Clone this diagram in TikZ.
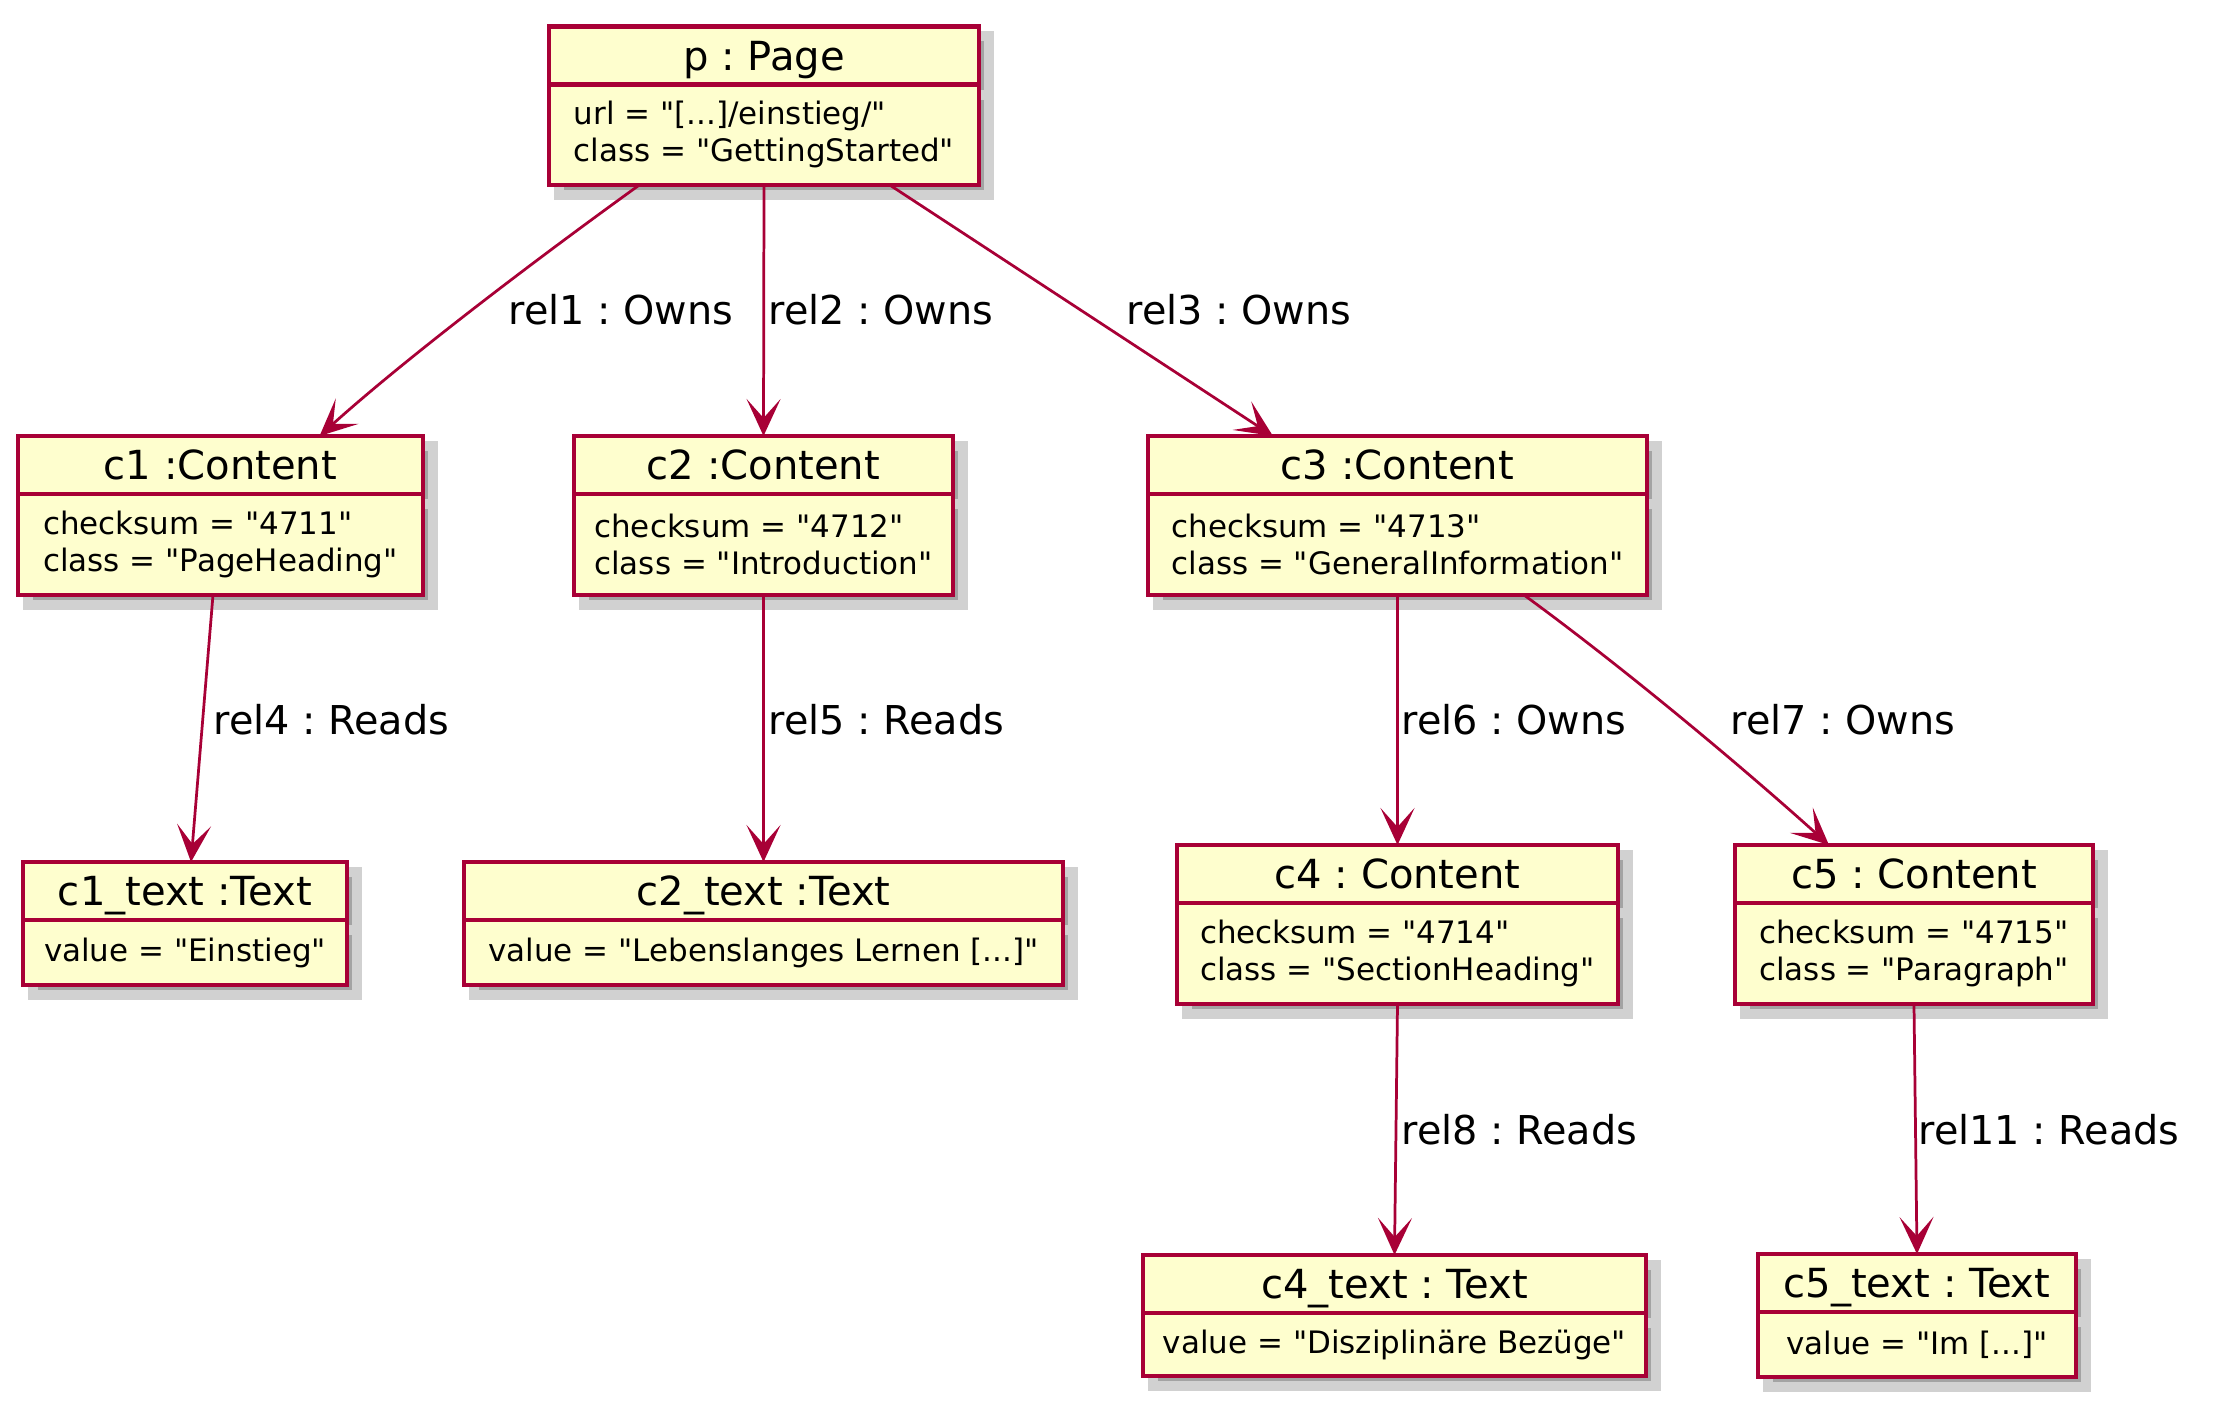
\documentclass[tikz,border=0pt]{standalone}
\usepackage{fontspec}
\setmainfont{DejaVu Sans}[Ligatures=TeXOff]
\usetikzlibrary{arrows.meta, positioning, shadows}
\frenchspacing

\definecolor{umlred}{HTML}{A80036}
\definecolor{umlfill}{HTML}{FEFECE}

\tikzset{
  objshadow/.style={drop shadow={shadow xshift=0.10cm, shadow yshift=-0.10cm, opacity=1, fill=black!36, draw=black!18, line width=0.10cm}},
  objhead/.style={draw=umlred, fill=umlfill, line width=1.15pt, minimum height=0.58cm, inner sep=0pt, outer sep=0pt, font=\fontsize{11.4}{13}\selectfont, text height=10.3pt, text depth=2pt, objshadow},
  objattr/.style={draw=umlred, fill=umlfill, line width=1.15pt, inner xsep=0.2cm, inner ysep=0pt, outer sep=0pt, align=left, font=\fontsize{8.8}{10.5}\selectfont, objshadow},
  link/.style={draw=umlred, line width=0.78pt, -{Stealth[length=0.37cm, width=0.34cm, inset=0.19cm]}},
  rellabel/.style={anchor=west, inner sep=0pt, font=\fontsize{11.3}{13}\selectfont}
}

\begin{document}
\begin{tikzpicture}[x=0.01cm, y=-0.01cm]
  \useasboundingbox (0,0) rectangle (2223,1409);

  \node[objhead, minimum width=4.30cm] (p) at (764,55.5) {p : Page};
  \node[objattr, minimum width=4.30cm, minimum height=1.00cm, below=0pt of p] (p-attr) {url = "[...]/einstieg/"\\class = "GettingStarted"};

  \node[objhead, minimum width=4.05cm] (c1) at (220.5,465) {c1 :Content};
  \node[objattr, minimum width=4.05cm, minimum height=1.01cm, below=0pt of c1] (c1-attr) {checksum = "4711"\\class = "PageHeading"};
  \node[objhead, minimum width=3.79cm] (c2) at (763.5,465) {c2 :Content};
  \node[objattr, minimum width=3.79cm, minimum height=1.01cm, below=0pt of c2] (c2-attr) {checksum = "4712"\\class = "Introduction"};
  \node[objhead, minimum width=4.99cm] (c3) at (1397.5,465) {c3 :Content};
  \node[objattr, minimum width=4.99cm, minimum height=1.01cm, below=0pt of c3] (c3-attr) {checksum = "4713"\\class = "GeneralInformation"};

  \node[objhead, minimum width=3.24cm] (c1text) at (185,891) {c1\_text :Text};
  \node[objattr, minimum width=3.24cm, minimum height=0.65cm, below=0pt of c1text] (c1text-attr) {value = "Einstieg"};
  \node[objhead, minimum width=5.99cm] (c2text) at (763.5,891) {c2\_text :Text};
  \node[objattr, minimum width=5.99cm, minimum height=0.65cm, below=0pt of c2text] (c2text-attr) {value = "Lebenslanges Lernen [...]"};

  \node[objhead, minimum width=4.41cm] (c4) at (1397.5,874) {c4 : Content};
  \node[objattr, minimum width=4.41cm, minimum height=1.01cm, below=0pt of c4] (c4-attr) {checksum = "4714"\\class = "SectionHeading"};
  \node[objhead, minimum width=3.58cm] (c5) at (1914,874) {c5 : Content};
  \node[objattr, minimum width=3.58cm, minimum height=1.01cm, below=0pt of c5] (c5-attr) {checksum = "4715"\\class = "Paragraph"};

  \node[objhead, minimum width=5.03cm] (c4text) at (1394.5,1284) {c4\_text : Text};
  \node[objattr, minimum width=5.03cm, minimum height=0.63cm, below=0pt of c4text] (c4text-attr) {value = "Disziplinäre Bezüge"};
  \node[objhead, minimum width=3.18cm] (c5text) at (1917,1283) {c5\_text : Text};
  \node[objattr, minimum width=3.18cm, minimum height=0.65cm, below=0pt of c5text] (c5text-attr) {value = "Im [...]"};

  \draw[link] ([xshift=-1.24cm]p-attr.south) .. controls +(-100,72) and +(89,-80) .. ([xshift=0.99cm]c1.north);
  \draw[link] (p-attr.south) -- (c2.north);
  \draw[link] ([xshift=1.25cm]p-attr.south) -- ([xshift=-1.245cm]c3.north);
  \draw[link] ([xshift=-0.075cm]c1-attr.south) -- ([xshift=0.06cm]c1text.north);
  \draw[link] (c2-attr.south) -- (c2text.north);
  \draw[link] (c3-attr.south) -- (c4.north);
  \draw[link] ([xshift=1.265cm]c3-attr.south) .. controls +(100,73) and +(-89,-80) .. ([xshift=-0.85cm]c5.north);
  \draw[link] (c4-attr.south) -- (c4text.north);
  \draw[link] (c5-attr.south) -- (c5text.north);

  \node[rellabel] (rel1) at (508,310) {rel1 : Owns};
  \node[rellabel] (rel2) at (768,310) {rel2 : Owns};
  \node[rellabel] (rel3) at (1126,310) {rel3 : Owns};
  \node[rellabel] (rel4) at (213,720) {rel4 : Reads};
  \node[rellabel] (rel5) at (768,720) {rel5 : Reads};
  \node[rellabel] (rel6) at (1401,720) {rel6 : Owns};
  \node[rellabel] (rel7) at (1730,720) {rel7 : Owns};
  \node[rellabel] (rel8) at (1401,1130) {rel8 : Reads};
  \node[rellabel] (rel11) at (1918,1130) {rel11 : Reads};
\end{tikzpicture}
\end{document}
